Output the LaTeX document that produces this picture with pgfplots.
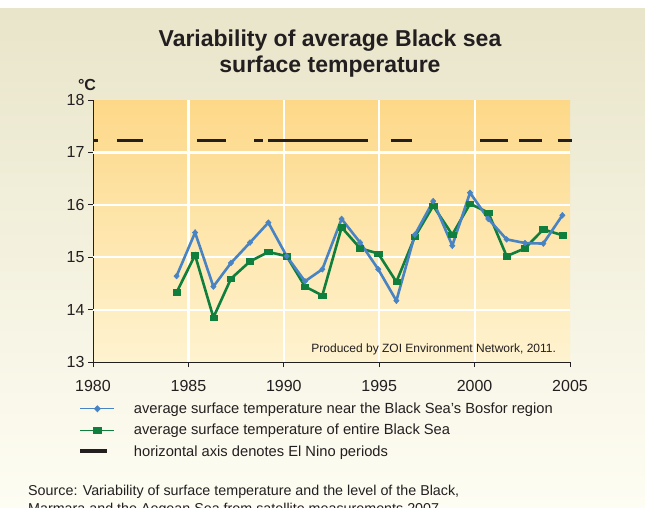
\documentclass[border=0pt]{standalone}
\usepackage{pgfplots}
\pgfplotsset{compat=1.18}
\usepackage{fontspec}
\setmainfont{Liberation Sans}
\definecolor{bgtop}{RGB}{233,229,202}
\definecolor{bgbot}{RGB}{254,253,243}
\definecolor{pltop}{RGB}{253,216,136}
\definecolor{plbot}{RGB}{254,243,208}
\definecolor{bosblue}{RGB}{72,132,196}
\definecolor{seagreen}{RGB}{16,126,60}
\definecolor{txt}{RGB}{35,31,32}
\pgfplotsset{
  mylegline/.style={legend image code/.code={%
    \draw[mark repeat=2,mark phase=2,##1] plot coordinates {(0pt,0pt) (17pt,0pt) (34pt,0pt)};}},
  mylegbar/.style={legend image code/.code={%
    \draw[##1] (0pt,0pt) -- (27pt,0pt);}},
}
\begin{document}
\begin{tikzpicture}[x=1pt,y=1pt]
\path[use as bounding box, clip] (0,0) rectangle (645,507);
\fill[white] (0,0) rectangle (645,507);
\shade[top color=bgtop,bottom color=bgbot] (0,0) rectangle (645,498);
\node[anchor=base, text=txt, font=\fontsize{23}{25}\selectfont\bfseries] at (330,460) {Variability of average Black sea};
\node[anchor=base, text=txt, font=\fontsize{23}{25}\selectfont\bfseries] at (330,434) {surface temperature};
\node[text=txt, font=\fontsize{16}{16}\selectfont\bfseries] at (87,422) {°C};
\begin{axis}[
  at={(93pt,145pt)}, anchor=south west,
  scale only axis, width=477pt, height=262pt,
  xmin=1980, xmax=2005, ymin=13, ymax=18,
  clip=false,
  axis background/.style={shade, top color=pltop, bottom color=plbot},
  axis x line*=bottom, axis y line*=left,
  axis line style={-, txt, line width=1pt},
  every outer x axis line/.append style={-},
  every outer y axis line/.append style={-},
  xtick={1980,1985,...,2005}, ytick={13,14,...,18},
  tick align=outside, major tick length=5pt,
  tick style={txt, line width=0.9pt},
  extra x ticks={1985,1990,1995,2000}, extra x tick labels={},
  extra x tick style={grid=major, major tick length=0pt},
  extra y ticks={14,15,16,17}, extra y tick labels={},
  extra y tick style={grid=major, major tick length=0pt},
  grid style={white, line width=2.2pt},
  /pgf/number format/assume math mode=true,
  /pgf/number format/1000 sep={},
  tick label style={font=\fontsize{16}{16}\selectfont, text=txt},
  xticklabel style={yshift=-10pt},
  unbounded coords=jump,
  legend style={at={(-0.031,-0.137)}, anchor=north west, draw=none, fill=none,
    inner sep=0pt, row sep=0pt, column sep=15pt,
    font=\fontsize{14.7}{15}\selectfont, text=txt,
    nodes={inner ysep=4.6pt, inner xsep=4pt}},
  legend cell align=left,
]
% El Nino periods
\addplot[txt, line width=3pt, forget plot] coordinates {
(1980,17.22) (1980.27,17.22) (nan,nan)
(1981.25,17.22) (1982.6,17.22) (nan,nan)
(1985.45,17.22) (1986.97,17.22) (nan,nan)
(1988.44,17.22) (1988.9,17.22) (nan,nan)
(1989.17,17.22) (1994.4,17.22) (nan,nan)
(1995.6,17.22) (1996.7,17.22) (nan,nan)
(2000.28,17.22) (2001.75,17.22) (nan,nan)
(2002.33,17.22) (2003.53,17.22) (nan,nan)
(2004.37,17.22) (2005.1,17.22)
};
% entire Black Sea
\addplot[seagreen, line width=2.6pt, mark=square*, mark size=3.6pt,
  mark options={yscale=0.75, line width=0.5pt}, forget plot] coordinates {
(1984.38,14.33) (1985.35,15.04) (1986.31,13.85) (1987.23,14.59) (1988.23,14.92)
(1989.19,15.10) (1990.15,15.02) (1991.11,14.44) (1992.02,14.27) (1993.03,15.57)
(1994.00,15.17) (1994.95,15.07) (1995.90,14.53) (1996.87,15.39) (1997.83,15.98)
(1998.83,15.43) (1999.76,16.02) (2000.72,15.85) (2001.68,15.02) (2002.64,15.17)
(2003.60,15.53) (2004.60,15.42)
};
% Bosfor region
\addplot[bosblue, line width=2.6pt, mark=diamond*, mark size=3.6pt,
  mark options={yscale=0.8, line width=0.5pt}, forget plot] coordinates {
(1984.38,14.64) (1985.35,15.47) (1986.31,14.44) (1987.23,14.89) (1988.23,15.28)
(1989.19,15.66) (1990.15,15.02) (1991.11,14.54) (1992.02,14.77) (1993.03,15.73)
(1994.00,15.28) (1994.95,14.77) (1995.90,14.17) (1996.87,15.43) (1997.83,16.07)
(1998.83,15.22) (1999.76,16.23) (2000.72,15.73) (2001.68,15.34) (2002.64,15.27)
(2003.60,15.26) (2004.60,15.80)
};
\node[anchor=base east, text=txt, font=\fontsize{12}{12}\selectfont] at (axis cs:2004.45,13.19) {Produced by ZOI Environment Network, 2011.};
\addlegendimage{mylegline, bosblue, line width=1pt, mark=diamond*, mark size=3.6pt, mark options={yscale=0.8}}
\addlegendentry{average surface temperature near the Black Sea's Bosfor region}
\addlegendimage{mylegline, seagreen, line width=1pt, mark=square*, mark size=3.6pt, mark options={yscale=0.8}}
\addlegendentry{average surface temperature of entire Black Sea}
\addlegendimage{mylegbar, txt, line width=4pt}
\addlegendentry{horizontal axis denotes El Nino periods}
\end{axis}
\node[anchor=base west, inner sep=0pt, text=txt, font=\fontsize{14.3}{14.3}\selectfont] at (28,12) {Source: Variability of surface temperature and the level of the Black,};
\node[anchor=base west, inner sep=0pt, text=txt, font=\fontsize{14.3}{14.3}\selectfont] at (28,-6) {Marmara and the Aegean Sea from satellite measurements 2007};
\end{tikzpicture}
\end{document}
